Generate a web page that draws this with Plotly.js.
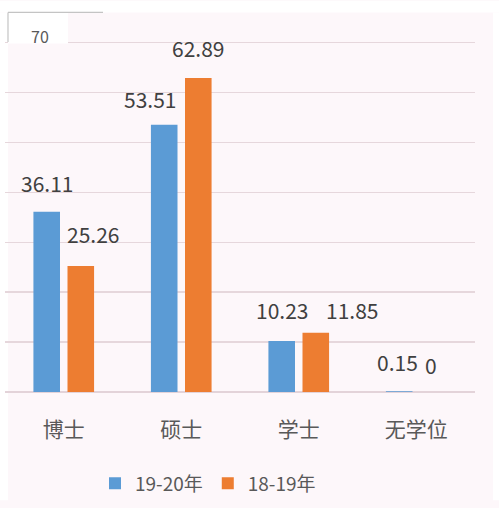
<!DOCTYPE html>
<html><head><meta charset="utf-8">
<script src="https://cdn.plot.ly/plotly-3.0.1.min.js"></script>
<style>html,body{margin:0;padding:0;background:#fff;}</style>
</head><body>
<div id="chart" style="width:499px;height:508px;"></div>
<script>
// ---- data ----
var categories = ['博士', '硕士', '学士', '无学位'];
var series1Name = '19-20年';
var series1 = [36.11, 53.51, 10.23, 0.15];
var series2Name = '18-19年';
var series2 = [25.26, 62.89, 11.85, 0];
var series1Labels = ['36.11', '53.51', '10.23', '0.15'];
var series2Labels = ['25.26', '62.89', '11.85', '0'];
var gridValues = [0, 10, 20, 30, 40, 50, 60, 70];

// ---- label placement (pixel shifts relative to bar tops) ----
var s1Shift = [[0, -29], [-14, -26], [0, -31], [-2, -29]];
var s2Shift = [[12, -32], [0, -30], [36, -23], [-2, -27]];
var barOffset = 17;

var W = 499, H = 508, ml = 5, mr = 24, mt = 40, mb = 110;
var pw = W - ml - mr, ph = H - mt - mb;
function px(x) { return (x - ml) / pw; }
function py(y) { return (H - mb - y) / ph; }

var blue = '#5b9bd5', orange = '#ed7d31';
var font = '"Noto Sans CJK SC", "Noto Sans", sans-serif';

var traces = [
  {type: 'bar', name: series1Name, x: categories, y: series1, marker: {color: blue}, hoverinfo: 'none'},
  {type: 'bar', name: series2Name, x: categories, y: series2, marker: {color: orange}, hoverinfo: 'none'}
];

var annotations = [];
categories.forEach(function (c, i) {
  annotations.push({x: c, y: series1[i], xref: 'x', yref: 'y', text: series1Labels[i], showarrow: false,
    xshift: -barOffset + s1Shift[i][0], yshift: -s1Shift[i][1], xanchor: 'center', yanchor: 'middle',
    font: {family: font, size: 21, color: '#404040'}});
  annotations.push({x: c, y: series2[i], xref: 'x', yref: 'y', text: series2Labels[i], showarrow: false,
    xshift: barOffset + s2Shift[i][0], yshift: -s2Shift[i][1], xanchor: 'center', yanchor: 'middle',
    font: {family: font, size: 21, color: '#404040'}});
});
annotations.push({xref: 'paper', yref: 'paper', x: px(40), y: py(36), text: '70', showarrow: false,
  xanchor: 'center', yanchor: 'middle', font: {family: font, size: 16, color: '#595959'}});

var shapes = [
  {type: 'rect', xref: 'paper', yref: 'paper', x0: px(0), x1: px(499), y0: py(0), y1: py(12), fillcolor: '#ffffff', line: {width: 0}, layer: 'below'},
  {type: 'rect', xref: 'paper', yref: 'paper', x0: px(0), x1: px(8), y0: py(12), y1: py(508), fillcolor: '#ffffff', line: {width: 0}, layer: 'below'},
  {type: 'rect', xref: 'paper', yref: 'paper', x0: px(493), x1: px(499), y0: py(12), y1: py(508), fillcolor: '#ffffff', line: {width: 0}, layer: 'below'},
  {type: 'rect', xref: 'paper', yref: 'paper', x0: px(8), x1: px(68), y0: py(12), y1: py(43.5), fillcolor: '#ffffff', line: {width: 0}, layer: 'above'},
  {type: 'line', xref: 'paper', yref: 'paper', x0: px(8), x1: px(103), y0: py(12), y1: py(12), line: {color: '#c4c4c4', width: 1.2}, layer: 'above'},
  {type: 'line', xref: 'paper', yref: 'paper', x0: px(8), x1: px(8), y0: py(12), y1: py(42), line: {color: '#c4c4c4', width: 1.2}, layer: 'above'}
];

var layout = {
  width: W, height: H,
  margin: {l: ml, r: mr, t: mt, b: mb, pad: 0},
  paper_bgcolor: '#fdf7fa',
  plot_bgcolor: 'rgba(0,0,0,0)',
  barmode: 'group',
  bargap: 0.42,
  bargroupgap: 0.22,
  showlegend: true,
  legend: {orientation: 'h', x: px(208), xanchor: 'center', y: py(491), yanchor: 'middle',
    font: {family: font, size: 19, color: '#595959'}, bgcolor: 'rgba(0,0,0,0)', itemwidth: 30, traceorder: 'normal'},
  xaxis: {type: 'category', showgrid: false, zeroline: false, showline: false,
    ticks: 'outside', ticklen: 19, tickcolor: 'rgba(0,0,0,0)',
    tickfont: {family: font, size: 21, color: '#595959'}, fixedrange: true},
  yaxis: {range: [0, 70.5], tickvals: gridValues, showticklabels: false, showgrid: true,
    gridcolor: '#e6d7dc', gridwidth: 1.3, zeroline: true, zerolinecolor: '#e3d3d9', zerolinewidth: 1.5,
    showline: false, fixedrange: true},
  annotations: annotations,
  shapes: shapes
};

Plotly.newPlot('chart', traces, layout, {displayModeBar: false, staticPlot: true});
</script>
</body></html>
